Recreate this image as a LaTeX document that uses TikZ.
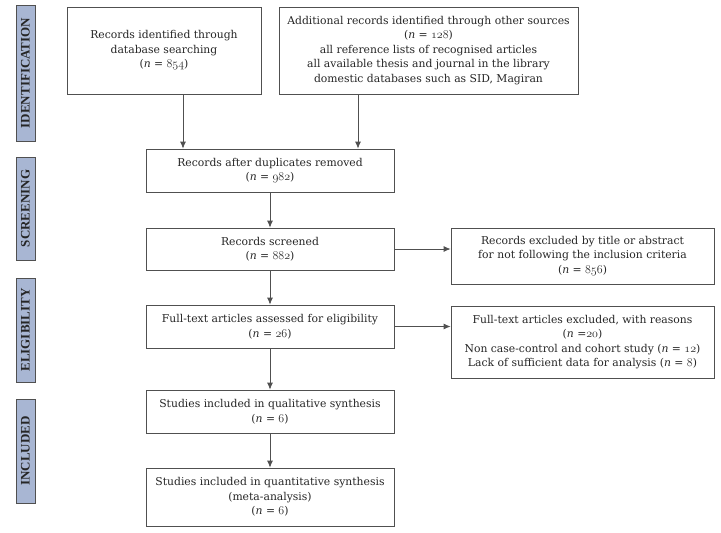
\documentclass[tikz,border=0pt]{standalone}
\usepackage{fontspec}
\newfontfamily\boxfont{DejaVu Serif}
\newfontfamily\sidefont{Liberation Serif}
\usetikzlibrary{arrows.meta}
\definecolor{sidefill}{HTML}{A8B6D3}
\definecolor{linegrey}{HTML}{505050}
\newcommand\nn{\textit{n}}
\newcommand\osn[1]{{\fontsize{12.8}{14.5}\selectfont$\mathnormal{#1}$}}
\begin{document}
\begin{tikzpicture}[x=1pt,y=-1pt,
  box/.style={draw=linegrey, line width=0.8pt, fill=white, align=center, inner sep=2pt,
    font=\boxfont\fontsize{10.8}{14.5}\selectfont, text=black!85},
  side/.style={draw=linegrey, line width=0.8pt, fill=sidefill, minimum height=19pt, inner sep=0pt,
    rotate=90, font=\sidefont\bfseries\fontsize{13}{13}\selectfont, text=black!85},
  arr/.style={draw=linegrey, line width=0.8pt, -{Latex[length=7pt,width=6pt]}}]
\useasboundingbox (0,0) rectangle (721,533);
% side labels
\node[side, minimum width=136pt] (sid) at (25.5,73) {IDENTIFICATION};
\node[side, minimum width=103pt] (sscr) at (25.5,208.5) {SCREENING};
\node[side, minimum width=104pt] (selig) at (25.5,330) {ELIGIBILITY};
\node[side, minimum width=104pt] (sincl) at (25.5,451) {INCLUDED};
% boxes
\node[box, minimum width=194pt, minimum height=87pt] (A) at (164,50.5)
  {Records identified through\\database searching\\(\nn{} = \osn{854})};
\node[box, minimum width=299pt, minimum height=87pt] (B) at (428.5,50.5)
  {Additional records identified through other sources\\(\nn{} = \osn{128})\\all reference lists of recognised articles\\all available thesis and journal in the library\\domestic databases such as SID, Magiran};
\node[box, minimum width=248pt, minimum height=43pt] (C) at (270,170.5)
  {Records after duplicates removed\\(\nn{} = \osn{982})};
\node[box, minimum width=248pt, minimum height=42pt] (D) at (270,249)
  {Records screened\\(\nn{} = \osn{882})};
\node[box, minimum width=263pt, minimum height=56pt] (E) at (582.5,256)
  {Records excluded by title or abstract\\for not following the inclusion criteria\\(\nn{} = \osn{856})};
\node[box, minimum width=248pt, minimum height=43pt] (F) at (270,326.5)
  {Full-text articles assessed for eligibility\\(\nn{} = \osn{26})};
\node[box, minimum width=263pt, minimum height=72pt] (G) at (582.5,342)
  {Full-text articles excluded, with reasons\\(\nn{} =\osn{20})\\Non case-control and cohort study (\nn{} = \osn{12})\\Lack of sufficient data for analysis (\nn{} = \osn{8})};
\node[box, minimum width=248pt, minimum height=43pt] (H) at (270,411.5)
  {Studies included in qualitative synthesis\\(\nn{} = \osn{6})};
\node[box, minimum width=248pt, minimum height=58pt] (I) at (270,497)
  {Studies included in quantitative synthesis\\(meta-analysis)\\(\nn{} = \osn{6})};
% connectors
\coordinate (xa) at (183,0);
\coordinate (xb) at (358,0);
\draw[arr] (A.south -| xa) -- (C.north -| xa);
\draw[arr] (B.south -| xb) -- (C.north -| xb);
\draw[arr] (C) -- (D);
\draw[arr] (D) -- (F);
\draw[arr] (F) -- (H);
\draw[arr] (H) -- (I);
\draw[arr] (D.east) -- (D.east -| E.west);
\draw[arr] (F.east) -- (F.east -| G.west);
\end{tikzpicture}
\end{document}
